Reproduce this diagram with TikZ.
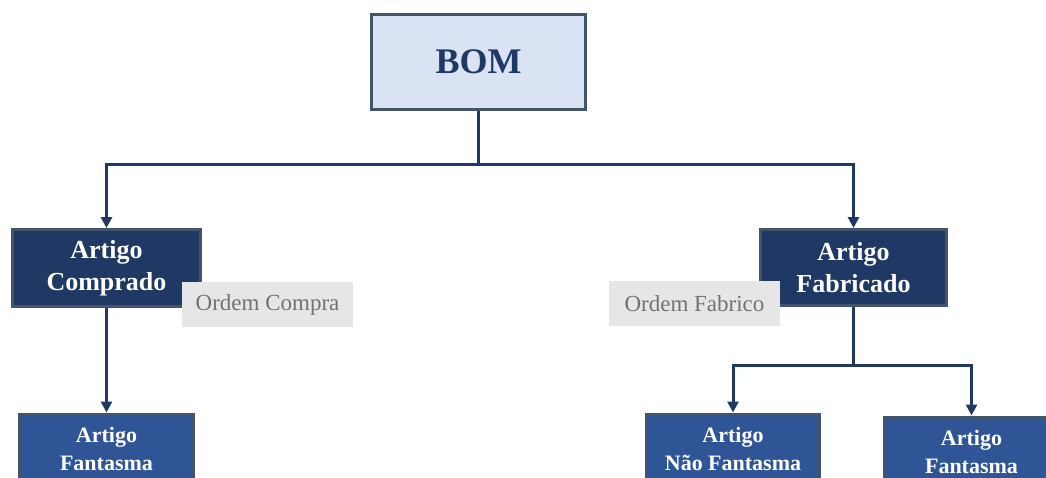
\documentclass[tikz,border=0pt]{standalone}
\usepackage{fontspec}
\setmainfont{Liberation Serif}
\usetikzlibrary{arrows.meta}

\definecolor{bomfill}{HTML}{DAE3F3}
\definecolor{edgegray}{HTML}{44546A}
\definecolor{navy}{HTML}{1F3864}
\definecolor{midblue}{HTML}{2F5597}
\definecolor{notefill}{HTML}{E7E6E6}
\definecolor{notetext}{HTML}{767171}
\definecolor{linkcol}{HTML}{203864}

\tikzset{
  rootbox/.style={draw=edgegray, line width=3pt, fill=bomfill, text=navy,
    font=\fontsize{36}{40}\selectfont\bfseries, inner sep=0pt},
  itembox/.style={draw=edgegray, line width=3pt, fill=navy, text=white,
    font=\fontsize{26}{32}\selectfont\bfseries, align=center, inner sep=0pt},
  leafbox/.style={draw=edgegray, line width=3pt, fill=midblue, text=white,
    font=\fontsize{22}{28}\selectfont\bfseries, align=center, inner sep=0pt},
  notebox/.style={fill=notefill, text=notetext,
    font=\fontsize{23}{26}\selectfont, inner sep=0pt,
    minimum width=171pt, minimum height=45pt},
  link/.style={draw=linkcol, line width=3pt},
  linkarrow/.style={link, -{Triangle[length=11pt, width=11pt]}}
}

\begin{document}
\begin{tikzpicture}[x=1pt, y=-1pt]
  \useasboundingbox (0,0) rectangle (1046,477);
  \clip (0,0) rectangle (1046,477);

  % root
  \node[rootbox, minimum width=214pt, minimum height=95pt] (bom) at (478.5,62) {BOM};

  % second level
  \node[itembox, minimum width=188pt, minimum height=77pt] (comp) at (106.5,268) {Artigo\\Comprado};
  \node[itembox, minimum width=186pt, minimum height=76pt] (fab) at (853.5,267.5) {Artigo\\Fabricado};

  % third level (the bottom and right edges run off the page)
  \node[leafbox, minimum width=174pt, minimum height=70pt] (fantL) at (106.5,449) {Artigo\\Fantasma};
  \node[leafbox, minimum width=173pt, minimum height=70pt] (naofant) at (733,449) {Artigo\\Não Fantasma};
  \node[leafbox, minimum width=174pt, minimum height=70pt] (fantR) at (971.5,452) {Artigo\\Fantasma};

  % order labels
  \node[notebox] (ordcomp) at (267.5,304.5) {Ordem Compra};
  \node[notebox] (ordfab) at (694.5,303.5) {Ordem Fabrico};

  % junctions
  \coordinate (j1) at (478.5,164);
  \coordinate (j2) at (853.5,365);

  % connectors
  \draw[link] (bom.south) -- (j1);
  \draw[linkarrow] (j1) -| (comp.north);
  \draw[linkarrow] (j1) -| (fab.north);
  \draw[linkarrow] (comp.south) -- (fantL.north);
  \draw[link] (fab.south) -- (j2);
  \draw[linkarrow] (j2) -| (naofant.north);
  \draw[linkarrow] (j2) -| (fantR.north);
\end{tikzpicture}
\end{document}
